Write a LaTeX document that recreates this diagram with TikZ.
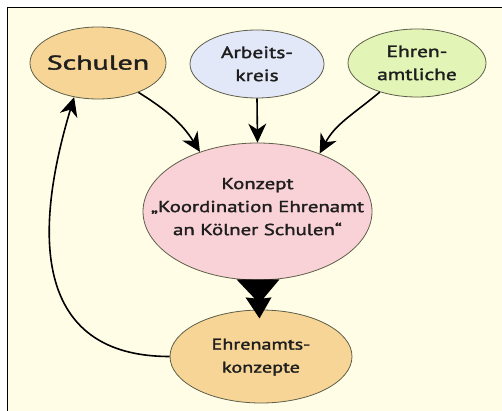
\documentclass[tikz,border=0pt]{standalone}
\usepackage{fontspec}
\usepackage{graphicx}
\setmainfont{PT Sans}[FakeBold=1.6]
\usetikzlibrary{shapes.geometric,arrows.meta}
\definecolor{bgcream}{HTML}{FFFDE6}
\definecolor{tanfill}{HTML}{F6D596}
\definecolor{bluefill}{HTML}{E2E8F8}
\definecolor{greenfill}{HTML}{E2F5B6}
\definecolor{pinkfill}{HTML}{F9D2D7}
\definecolor{rimcol}{HTML}{5E5E4A}
\definecolor{txtcol}{HTML}{1E1E1E}
\newcommand{\widetext}[2][1.3]{\scalebox{#1}[1]{\begin{tabular}{@{}c@{}}#2\end{tabular}}}
\tikzset{
  blob/.style={ellipse, draw=rimcol, line width=0.8pt, inner sep=0pt},
  txt/.style={inner sep=0pt, align=center, text=txtcol, font=\fontsize{16.5}{23}\selectfont},
  flow/.style={line width=1.6pt, -{Stealth[length=19pt,width=18pt,inset=6pt]}},
}
\begin{document}
\begin{tikzpicture}[x=1pt,y=-1pt]
\useasboundingbox (0,0) rectangle (502,411);
\fill[white] (0,0) rectangle (502,411);
\fill[bgcream] (8,8) rectangle (502,411);
\draw[line width=1.8pt] (7.5,411) -- (7.5,7.5) -- (502,7.5);

\node[blob, fill=tanfill, minimum width=136pt, minimum height=72pt] (schulen) at (98,63) {};
\node[txt, font=\fontsize{20}{23}\selectfont] (schulenT) at ([yshift=-2pt]schulen) {\widetext[1.5]{Schulen}};
\node[blob, fill=bluefill, minimum width=134pt, minimum height=68pt] (arbeit) at (257,64) {};
\node[txt] (arbeitT) at ([yshift=-1pt]arbeit) {\widetext{Arbeits-\\kreis}};
\node[blob, fill=greenfill, minimum width=138pt, minimum height=68pt] (ehren) at (417,63) {};
\node[txt] (ehrenT) at ([yshift=-1pt]ehren) {\widetext{Ehren-\\amtliche}};
\node[blob, fill=pinkfill, minimum width=229pt, minimum height=137pt] (konzept) at (257.5,211.5) {};
\node[txt, font=\fontsize{16}{23}\selectfont] (konzeptT) at ([yshift=4pt]konzept) {\widetext{Konzept\\„Koordination Ehrenamt\\an Kölner Schulen“}};
\node[blob, fill=tanfill, minimum width=182pt, minimum height=93pt] (ekonz) at (261,356.5) {};
\node[txt, font=\fontsize{15.5}{23}\selectfont] (ekonzT) at (ekonz) {\widetext{Ehrenamts-\\konzepte}};

\draw[flow] (schulen.-36) to[out=-32,in=122] (konzept.134);
\draw[flow] (arbeit.south) -- (konzept.north);
\draw[flow] (ehren.-142) to[out=-140,in=62] (konzept.43);
\draw[flow] (ekonz.west) .. controls +(-120,0) and +(-49,163) .. (schulen.-125);

\coordinate (bigtop) at (konzept.south);
\fill[black] ([xshift=-21pt,yshift=1pt]bigtop) -- ([xshift=-3pt,yshift=-18pt]bigtop)
  -- ([xshift=-12pt,yshift=-17pt]bigtop) -- ([xshift=2pt,yshift=-38pt]bigtop)
  -- ([xshift=14pt,yshift=-17pt]bigtop) -- ([xshift=6pt,yshift=-18pt]bigtop)
  -- ([xshift=22pt,yshift=1pt]bigtop) -- cycle;
\end{tikzpicture}
\end{document}
